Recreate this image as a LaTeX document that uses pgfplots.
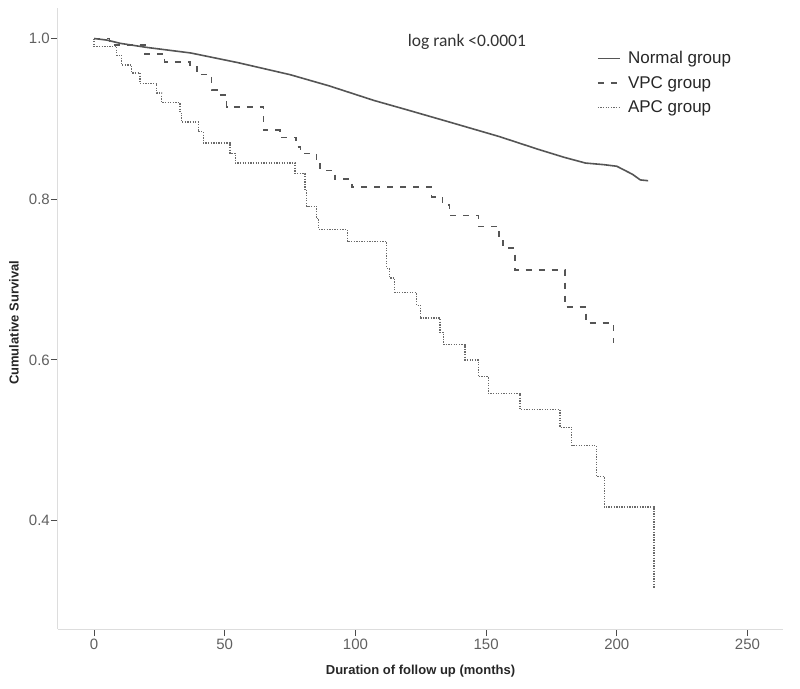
\documentclass[border=0pt]{standalone}
\usepackage{pgfplots}
\pgfplotsset{compat=1.18}
\usepackage{fontspec}
\setmainfont{Liberation Sans}
\newfontfamily\calib{Carlito}
\definecolor{curve}{HTML}{555555}
\definecolor{curvedot}{HTML}{6A6A6A}
\definecolor{ticklab}{HTML}{606060}
\definecolor{axln}{HTML}{DDDDDD}
\begin{document}
\begin{tikzpicture}
\begin{axis}[
  name=ax,
  scale only axis,
  width=725bp, height=621bp,
  xmin=-13.8, xmax=263.6,
  ymin=0.265, ymax=1.038,
  axis lines=left,
  axis line style={draw=axln, line width=1bp, -},
  xtick={0,50,100,150,200,250},
  ytick={0.4,0.6,0.8,1.0},
  tick align=outside,
  major tick length=7bp,
  tick style={draw=black!70, line width=0.8bp},
  /pgf/number format/assume math mode=true,
  yticklabel style={/pgf/number format/fixed, /pgf/number format/fixed zerofill, /pgf/number format/precision=1, inner sep=1bp},
  ticklabel style={font=\fontsize{15bp}{18bp}\selectfont, text=ticklab},
  every axis x label/.style={at={(axis description cs:0.5,0)}, yshift=-42bp, anchor=center},
  every axis y label/.style={at={(axis description cs:0,0.493)}, xshift=-44bp, rotate=90, anchor=center},
  xlabel={Duration of follow up (months)},
  ylabel={Cumulative Survival},
  label style={font=\bfseries\fontsize{13bp}{15bp}\selectfont, text=black!85},
  legend style={at={(axis description cs:0.739,0.936)}, anchor=north west, draw=none, fill=none,
    font=\fontsize{17bp}{20bp}\selectfont, text=black!85, row sep=8bp,
    nodes={inner sep=1.5bp},
    /tikz/every odd column/.append style={column sep=6bp}},
  legend cell align=left,
  legend image code/.code={\draw[#1] (0bp,0bp) -- (22bp,0bp);},
  clip=false,
]
\addplot[color=curve, line width=1.6bp] coordinates {
(0,1.0)(5,0.998)(10,0.994)(20,0.989)(37,0.982)(55,0.970)(75,0.955)(90,0.941)
(107,0.923)(120,0.911)(136,0.896)(155,0.878)(170,0.862)(180,0.852)(188,0.845)
(195,0.843)(200,0.841)(203,0.836)(206,0.831)(209,0.824)(212,0.823)
};
\addlegendentry{Normal group}
\addplot[const plot, color=curve, line width=1.5bp, dash pattern=on 6bp off 7bp] coordinates {
(0,1.0)(6,0.992)(19.5,0.981)(27,0.971)(36.7,0.965)(39.3,0.955)(45,0.936)(47.6,0.930)
(50.7,0.915)(64.8,0.886)(71.1,0.877)(77.3,0.865)(79,0.857)(85.2,0.845)(86.5,0.836)
(92.2,0.825)(98.6,0.815)(129.2,0.803)(133.3,0.793)(135.9,0.780)(147,0.766)(155,0.751)
(156.5,0.739)(161,0.712)(180.2,0.666)(188.2,0.646)(198.7,0.621)
};
\addlegendentry{VPC group}
\addplot[const plot, color=curvedot, line width=1.3bp, dash pattern=on 1.3bp off 1.3bp] coordinates {
(0,1.0)(0,0.990)(8.7,0.979)(10.6,0.967)(14.4,0.957)(17.6,0.944)(24,0.932)(25.9,0.920)
(32.9,0.907)(33.5,0.896)(39.9,0.884)(41.8,0.870)(52,0.857)(54,0.845)(76.9,0.832)
(80.7,0.812)(81.4,0.791)(85.2,0.776)(86,0.762)(96.9,0.747)(112,0.714)(113,0.702)
(115,0.684)(123.4,0.668)(124.8,0.652)(132.4,0.634)(133.8,0.619)(141.9,0.600)
(147,0.579)(150.9,0.558)(163,0.538)(178.3,0.516)(182.8,0.493)(192.3,0.455)
(195.2,0.417)(214.2,0.316)
};
\addlegendentry{APC group}
\node[font=\calib\fontsize{17.5bp}{20bp}\selectfont, text=black!80, anchor=center]
  at (axis description cs:0.564,0.945) {log rank <0.0001};
\coordinate (bl) at (rel axis cs:0,0);
\coordinate (tr) at (rel axis cs:1,1);
\end{axis}
\pgfresetboundingbox
\path (bl) ++(-58bp,-60bp) coordinate (BL);
\path (tr) ++(17bp,8bp) coordinate (TR);
\useasboundingbox (BL) rectangle (TR);
\end{tikzpicture}
\end{document}
